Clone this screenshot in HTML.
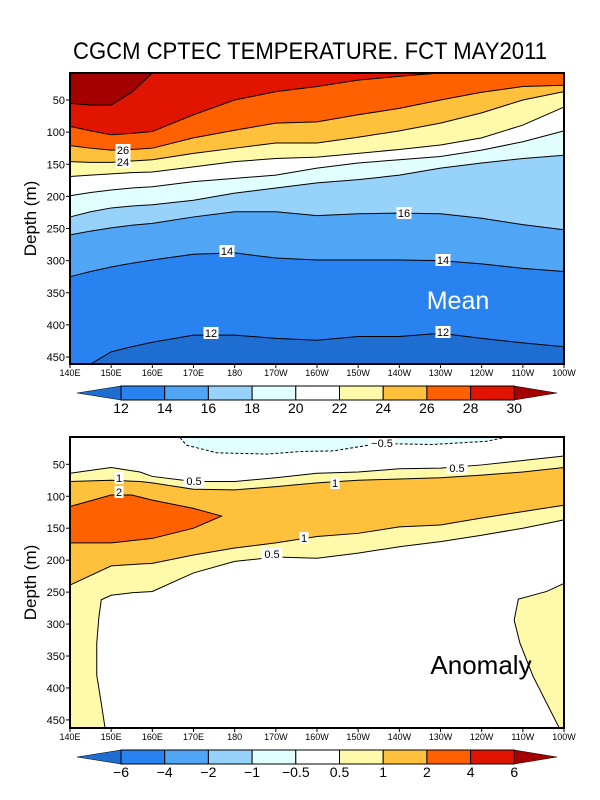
<!DOCTYPE html>
<html><head><meta charset="utf-8"><style>
html,body{margin:0;padding:0;background:#fff}
svg{display:block}
text{font-family:"Liberation Sans",sans-serif}
</style></head><body>
<svg id="fig" width="600" height="800" viewBox="0 0 600 800" xmlns="http://www.w3.org/2000/svg">
<text x="310" y="59" font-size="24" text-anchor="middle" textLength="474" lengthAdjust="spacingAndGlyphs">CGCM CPTEC TEMPERATURE. FCT MAY2011</text>
<g id="top"></g><g id="bot"></g>
</svg>
<script>
// ---- Mean panel data ----
const lonGrid=[140,145,150,155,160,170,180,190,200,210,220,230,240,250,260];
const meanLevels=[12,14,16,18,20,22,24,26,28,30];
const iso12=[461,461,442,434,427,416,416,421,424,418,418,413,421,428,434];
const iso14=[325,317,310,304,299,290,288,296,299,299,299,300,305,312,317];
const iso16=[260,254,249,245,242,232,224,224,230,227,226,227,234,244,252];
const iso18=[232,224,218,215,213,206,195,187,179,174,167,156,148,141,136];
const iso20=[199,194,190,187,185,177,172,167,156,148,143,138,128,115,98];
const iso22=[169,167,165,163,162,154,146,141,139,133,127,120,109,89,61];
const iso24=[146,147,147,145,143,133,125,117,117,108,98,86,70,50,37];
const iso26=[121,125,128,127,125,109,97,86,84,73,63,50,38,29,27];
const iso28=[91,98,104,102,99,73,50,37,29,19,13,8,8,8,8];
const iso30=[55,58,58,38,8,8,8,8,8,8,8,8,8,8,8];
const meanColors=["#1e6ed2","#2882f0","#50a5f5","#96d2fa","#e1ffff","#ffffff","#fffaaa","#ffc03c","#ff6000","#e11400","#a50000"];
// ---- Anomaly panel data ----
const anomLevels=[-6,-4,-2,-1,-0.5,0.5,1,2,4,6];
const anomColors=["#1e6ed2","#2882f0","#50a5f5","#96d2fa","#e1ffff","#ffffff","#fffaaa","#ffc03c","#ff6000","#e11400","#a50000"];
const anomLon=[140,150,157,160,170,180,190,200,210,220,230,240,250,260];
const pos05Upper=[64,55,62,69,77,77,71,64,62,57,56,51,44,37];
const pos1Upper=[77,75,77,79,89,90,85,79,75,73,71,67,62,55];
const pos1Lower=[239,209,206,205,192,181,173,163,158,148,145,134,124,114];
const pos05LowerLon=[260,250,240,230,220,210,200,190,180,170,160,155,150,147.6,147,146.5,146.5,147.5,148.5];
const pos05LowerDepth=[137,150,161,171,179,189,197,195,202,220,249,251,255,262,290,330,380,420,462];
const pos2Lon=[140,150,155,160,170,176.8,170,160,150,140];
const pos2Depth=[116,98,98,106,119,131,150,166,173,173];
const eastBlobLon=[259.8,255.8,248.9,247.9,249.3,252.5,256.2,258.8,260,260];
const eastBlobDepth=[237,249,261,294,330,382,429,462,462,237];
const negBlobLon=[166.7,168.3,175.6,187.8,196,204,214.5,219.4,228,241.2,245.7];
const negBlobDepth=[8,20,32,34,30,29,18,18,19,14,8];
const lonTicks=[140,150,160,170,180,190,200,210,220,230,240,250,260];
const lonTickLabels=["140E","150E","160E","170E","180","170W","160W","150W","140W","130W","120W","110W","100W"];
const depthTicks=[50,100,150,200,250,300,350,400,450];

const NS="http://www.w3.org/2000/svg";
function mk(parent,tag,attrs,txt){const e=document.createElementNS(NS,tag);for(const k in attrs)e.setAttribute(k,attrs[k]);if(txt!==undefined)e.textContent=txt;parent.appendChild(e);return e;}
const X0=70,X1=564;
const xs=lon=>X0+(lon-140)*(X1-X0)/120;
function makeY(top,bot,y50,scale){return d=>Math.max(top,Math.min(bot,y50+(d-50)*scale));}
const yT=makeY(73,364,100,0.6425);
const yB=makeY(437,728,464.3,0.639);

function axes(g,top,bot,ys,title){
  mk(g,"rect",{x:X0,y:top,width:X1-X0,height:bot-top,fill:"none",stroke:"#000","stroke-width":2,});
  lonTicks.forEach((l,i)=>{
    const t=mk(g,"line",{x1:xs(l),x2:xs(l),y1:bot,y2:bot+4,stroke:"#000"});
    
    
    const tl=mk(g,"text",{x:xs(l),y:bot+12,"font-size":9,"text-anchor":"middle"},lonTickLabels[i]);
    
    
  });
  depthTicks.forEach(d=>{
    const t=mk(g,"line",{x1:X0-4,x2:X0,y1:ys(d),y2:ys(d),stroke:"#000"});
    
    
    const tl=mk(g,"text",{x:X0-5,y:ys(d)+4,"font-size":11,"text-anchor":"end"},d);
    
    
  });
  const yc=(top+bot)/2;
  const yt=mk(g,"text",{x:36,y:yc,"font-size":17,"text-anchor":"middle",transform:`rotate(-90 36 ${yc})`},"Depth (m)");
  
  
}
function label(g,x,y,t){
  const w=t.length*6+3;
  const lg=mk(g,"g",{});
  
  
  mk(lg,"rect",{x:x-w/2,y:y-6,width:w,height:12,fill:"#fff"});
  mk(lg,"text",{x:x,y:y+4,"font-size":11,"text-anchor":"middle"},t);
}
function colorbar(g,y,colors,labels){
  const bx0=121,bw=43.7,h=14;
  const lt=mk(g,"polygon",{points:`77,${y+h/2} ${bx0},${y} ${bx0},${y+h}`,fill:colors[0],stroke:"#000","stroke-width":0.5});
  
  
  for(let i=1;i<colors.length-1;i++){
    const r=mk(g,"rect",{x:bx0+(i-1)*bw,y:y,width:bw,height:h,fill:colors[i],stroke:"#000","stroke-width":1});
    
    
  }
  const xe=bx0+(colors.length-2)*bw;
  const rt=mk(g,"polygon",{points:`${xe},${y} ${xe},${y+h} 557,${y+h/2}`,fill:colors[colors.length-1],stroke:"#000","stroke-width":0.5});
  
  
  labels.forEach((l,i)=>{
    const t=mk(g,"text",{x:bx0+i*bw,y:y+h+13,"font-size":14,"text-anchor":"middle"},String(l).replace('-','\u2212'));
    
    
  });
}

// ---- Mean panel ----
const gT=document.getElementById("top");


const meanIsos=[iso12,iso14,iso16,iso18,iso20,iso22,iso24,iso26,iso28,iso30];
mk(gT,"rect",{x:X0,y:73,width:X1-X0,height:291,fill:meanColors[0]});
meanIsos.forEach((iso,k)=>{
  let pts=lonGrid.map((l,i)=>`${xs(l)},${yT(iso[i])}`);
  const p=mk(gT,"polygon",{points:`${xs(140)},73 `+pts.join(" ")+` ${xs(260)},73`,fill:meanColors[k+1]});
  
  
});
meanIsos.forEach((iso,k)=>{
  const pl=mk(gT,"polyline",{points:lonGrid.map((l,i)=>`${xs(l)},${yT(iso[i])}`).join(" "),fill:"none",stroke:"#000","stroke-width":1});
  
  
});
label(gT,123,150,"26");label(gT,123,162,"24");label(gT,404,213,"16");
label(gT,227,251,"14");label(gT,443,260,"14");label(gT,211,333,"12");label(gT,443,332,"12");
const mt=mk(gT,"text",{x:458,y:309,"font-size":25,fill:"#fff","text-anchor":"middle"},"Mean");


axes(gT,73,364,yT);
colorbar(gT,386,meanColors,meanLevels);

// ---- Anomaly panel ----
const gB=document.getElementById("bot");


mk(gB,"rect",{x:X0,y:437,width:X1-X0,height:291,fill:"#fff"});
function pts(lons,deps){return lons.map((l,i)=>`${xs(l)},${yB(deps[i])}`).join(" ");}
let yel=pts(anomLon,pos05Upper)+" "+pts(pos05LowerLon,pos05LowerDepth)+` ${xs(140)},${yB(462)}`;
const py=mk(gB,"polygon",{points:yel,fill:"#fffaaa"});


const pe=mk(gB,"polygon",{points:pts(eastBlobLon,eastBlobDepth),fill:"#fffaaa"});


const rev=a=>a.slice().reverse();
const po=mk(gB,"polygon",{points:pts(anomLon,pos1Upper)+" "+pts(rev(anomLon),rev(pos1Lower)),fill:"#ffc03c"});


const pr=mk(gB,"polygon",{points:pts(pos2Lon,pos2Depth),fill:"#ff6000",stroke:"#000","stroke-width":1});


const pn=mk(gB,"polygon",{points:pts(negBlobLon,negBlobDepth),fill:"#e1ffff"});


[[anomLon,pos05Upper],[anomLon,pos1Upper],[anomLon,pos1Lower],[pos05LowerLon,pos05LowerDepth],[eastBlobLon.slice(0,8),eastBlobDepth.slice(0,8)]].forEach(a=>{
  const l=mk(gB,"polyline",{points:pts(a[0],a[1]),fill:"none",stroke:"#000","stroke-width":1});
  
  
});
const ln=mk(gB,"polyline",{points:pts(negBlobLon,negBlobDepth),fill:"none",stroke:"#000","stroke-width":1,"stroke-dasharray":"3,2"});


label(gB,119,478,"1");label(gB,119,492,"2");label(gB,194,481,"0.5");label(gB,272,554,"0.5");
label(gB,335,483,"1");label(gB,304,538,"1");label(gB,457,468,"0.5");label(gB,382,443,"\u22120.5");
const at=mk(gB,"text",{x:481,y:674,"font-size":26,"text-anchor":"middle"},"Anomaly");


axes(gB,437,728,yB);
colorbar(gB,750,anomColors,anomLevels);
</script>
</body></html>
